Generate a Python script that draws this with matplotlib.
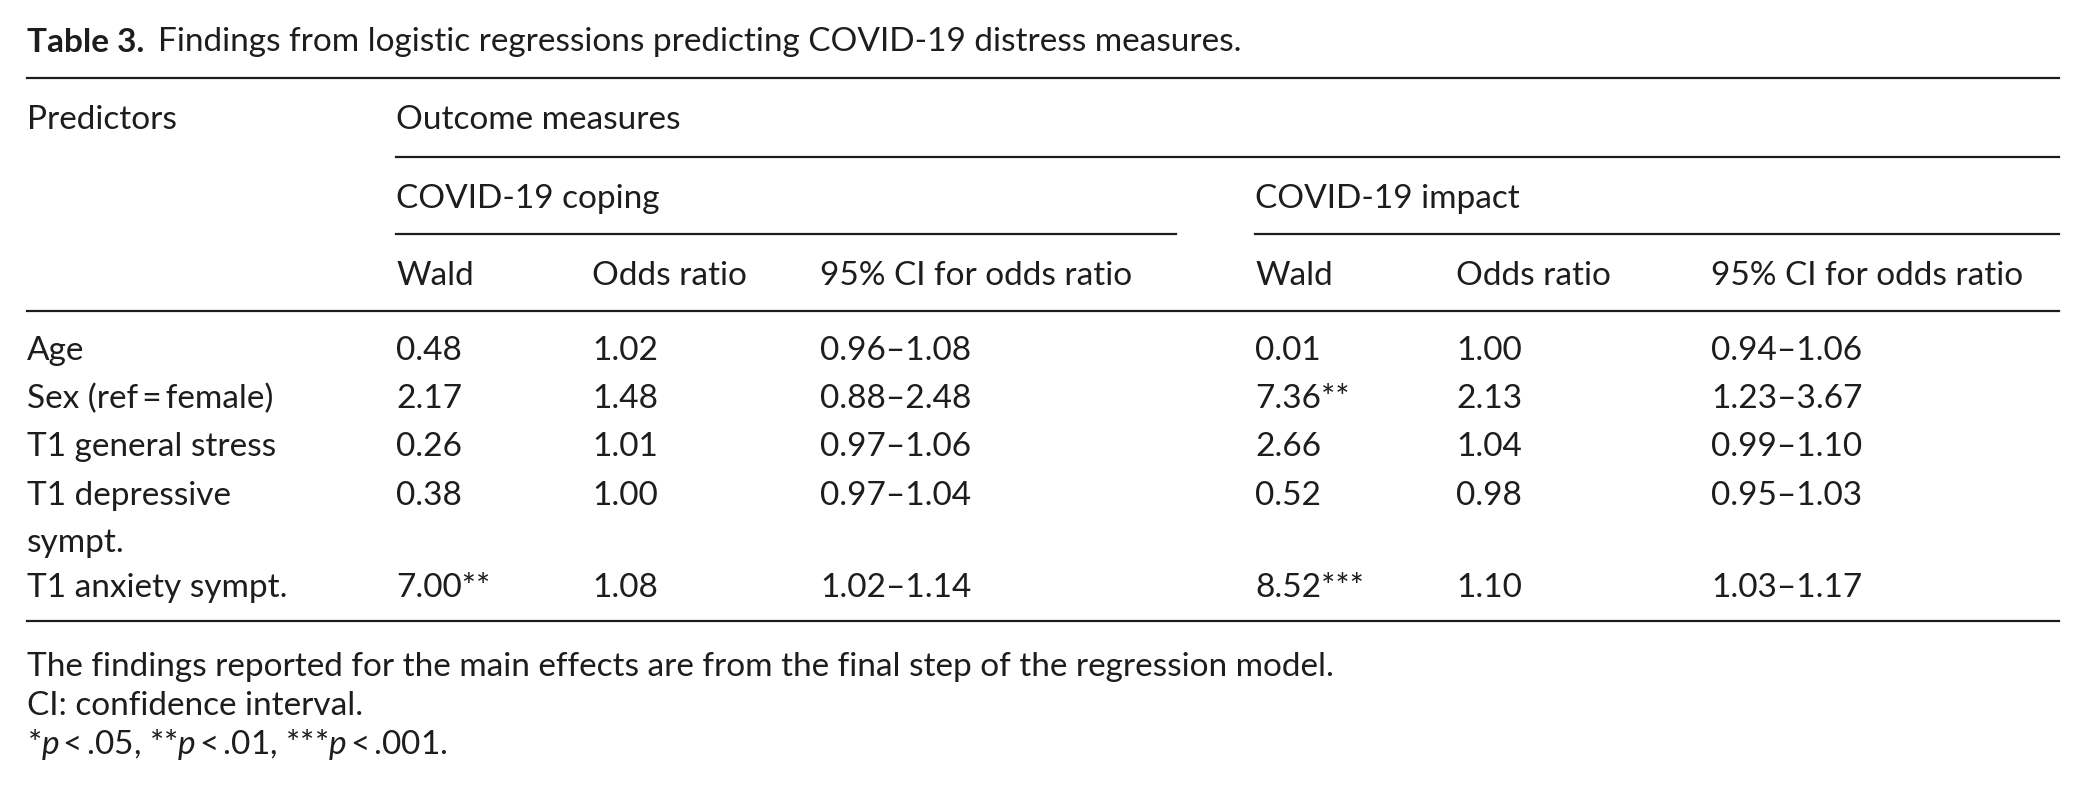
import matplotlib.pyplot as plt
from matplotlib.lines import Line2D

# ── Table data ──────────────────────────────────────────────────────────────
predictors = ["Age", "Sex (ref\u2009=\u2009female)", "T1 general stress",
              "T1 depressive\nsympt.", "T1 anxiety sympt."]
coping_wald = ["0.48", "2.17", "0.26", "0.38", "7.00**"]
coping_or = ["1.02", "1.48", "1.01", "1.00", "1.08"]
coping_ci = ["0.96\u20131.08", "0.88\u20132.48", "0.97\u20131.06", "0.97\u20131.04", "1.02\u20131.14"]
impact_wald = ["0.01", "7.36**", "2.66", "0.52", "8.52***"]
impact_or = ["1.00", "2.13", "1.04", "0.98", "1.10"]
impact_ci = ["0.94\u20131.06", "1.23\u20133.67", "0.99\u20131.10", "0.95\u20131.03", "1.03\u20131.17"]
col_headers = ["Wald", "Odds ratio", "95% CI for odds ratio"]
groups = ["COVID-19 coping", "COVID-19 impact"]
title_bold = "Table 3."
title_text = "Findings from logistic regressions predicting COVID-19 distress measures."
notes = ["The findings reported for the main effects are from the final step of the regression model.",
         "CI: confidence interval.",
         "*$p$\u2009<\u2009.05, **$p$\u2009<\u2009.01, ***$p$\u2009<\u2009.001."]

# ── Layout (pixels, measured from top-left) ─────────────────────────────────
W, H = 2085, 789
X0, X1 = 27, 2059
COL_X = [396, 592, 820, 1255, 1456, 1711]
ROW_Y = [360, 408, 456, 505, 597]
LINE_GAP = 47
FS = 24
INK = '#1d1d1b'

plt.rcParams['font.family'] = ['Lato', 'DejaVu Sans']
plt.rcParams['mathtext.fontset'] = 'custom'
plt.rcParams['mathtext.rm'] = 'Lato'
plt.rcParams['mathtext.it'] = 'Lato:italic'

fig = plt.figure(figsize=(W / 100, H / 100), dpi=100)
fig.patch.set_facecolor('white')


def fx(x):
    return x / W


def fy(y):
    return 1 - y / H


def put(x, y, s, **kw):
    return fig.text(fx(x), fy(y), s, fontsize=FS, color=INK,
                    ha='left', va='baseline', **kw)


def rule(xa, xb, y, lw=1.6):
    fig.add_artist(Line2D([fx(xa), fx(xb)], [fy(y), fy(y)], color=INK, lw=lw))


# Title: bold label followed by regular caption
t1 = put(X0, 52, title_bold, fontweight='bold')
fig.add_artist(plt.Annotation(title_text, xy=(1, 0), xycoords=t1,
                              xytext=(10, 0), textcoords='offset points',
                              fontsize=FS, color=INK, ha='left', va='bottom'))

# Rules
rule(X0, X1, 78)
rule(COL_X[0], X1, 157)
rule(COL_X[0], 1176, 234)
rule(COL_X[3], X1, 234)
rule(X0, X1, 311)
rule(X0, X1, 621)

# Headers
put(X0, 129, "Predictors")
put(COL_X[0], 129, "Outcome measures")
put(COL_X[0], 208, groups[0])
put(COL_X[3], 208, groups[1])
for i, h in enumerate(col_headers * 2):
    put(COL_X[i], 285, h)

# Body
columns = [coping_wald, coping_or, coping_ci, impact_wald, impact_or, impact_ci]
for r, name in enumerate(predictors):
    for k, line in enumerate(name.split("\n")):
        put(X0, ROW_Y[r] + k * LINE_GAP, line)
    for c, col in enumerate(columns):
        put(COL_X[c], ROW_Y[r], col[r])

# Notes
for k, n in enumerate(notes):
    put(X0, 676 + k * 39, n)

fig.savefig("out.png", dpi=100, facecolor='white')
